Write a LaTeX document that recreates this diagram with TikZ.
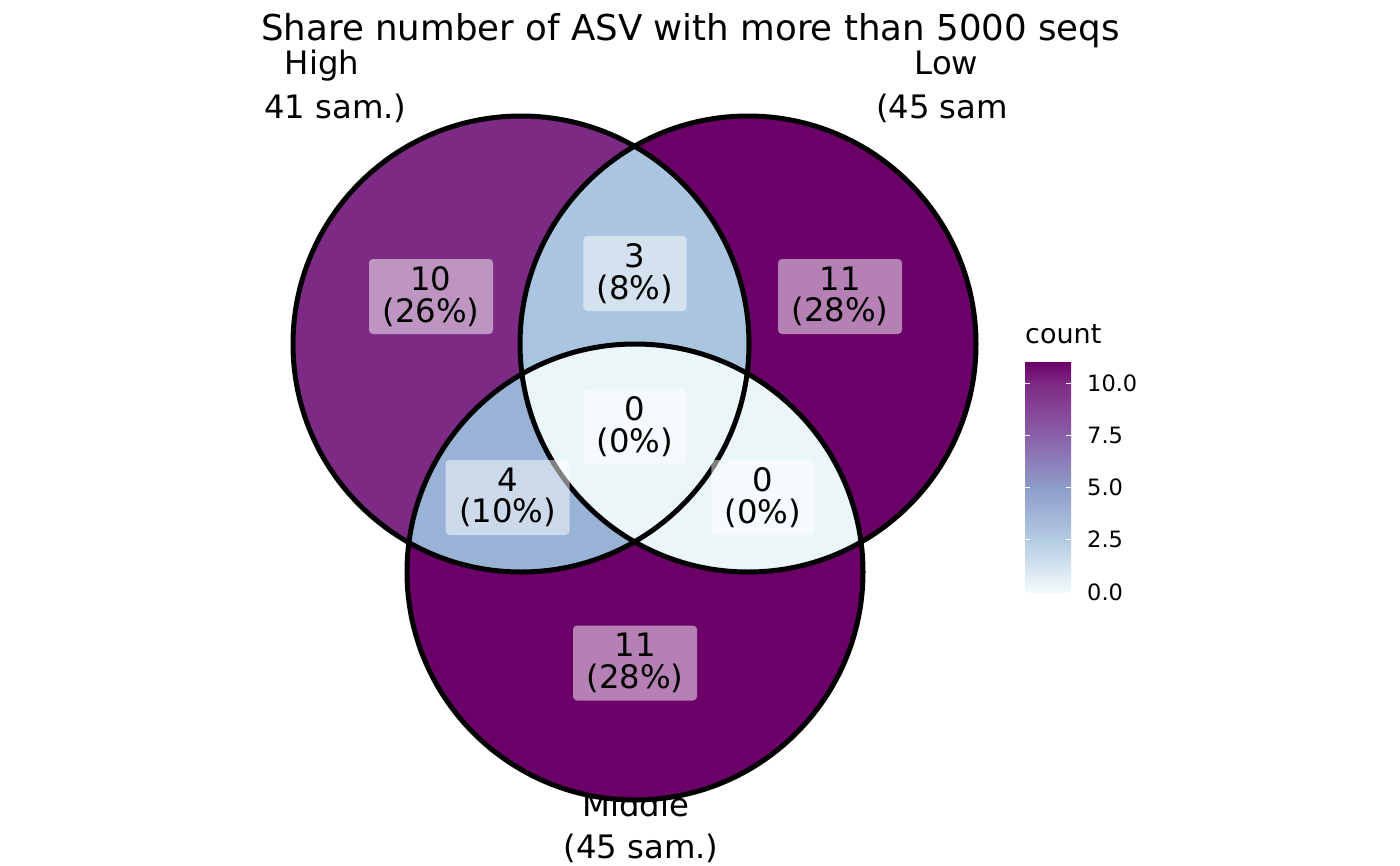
\documentclass[tikz,border=0pt]{standalone}
\usepackage{fontspec}
\setmainfont{DejaVu Sans}
\definecolor{cz}{HTML}{EBF6F9}
\definecolor{cthree}{HTML}{A9C5DF}
\definecolor{cfour}{HTML}{99B3D6}
\definecolor{cten}{HTML}{7D2A84}
\definecolor{celeven}{HTML}{6B0068}
\definecolor{sz}{HTML}{F3FAFC}
\definecolor{stwo}{HTML}{B3CBE2}
\definecolor{sfive}{HTML}{8D9DCA}
\definecolor{sseven}{HTML}{8B60A8}
\definecolor{sten}{HTML}{7D2A85}
\definecolor{selev}{HTML}{6B0068}
\begin{document}
\begin{tikzpicture}[x=1pt,y=-1pt,
  setlab/.style={font=\fontsize{32.3}{32.3}\selectfont, anchor=base},
  numbox/.style={fill=white, fill opacity=0.5, text opacity=1, rounded corners=4pt,
    inner xsep=13.5pt, inner ysep=0pt, minimum height=75pt, align=center,
    font=\fontsize{32.3}{31.5}\selectfont},
  ring/.style={draw=black, line width=5pt},
  ticklab/.style={font=\fontsize{22.5}{22.5}\selectfont, anchor=base west},
  tickmark/.style={draw=white, line width=1pt}]
\useasboundingbox[fill=white] (0,0) rectangle (1400,865);
\coordinate (H) at (521,344);
\coordinate (L) at (748,344);
\coordinate (M) at (635,572);
% title
\node[font=\fontsize{35.6}{35.6}\selectfont, anchor=base] (title) at (690.5,40) {Share number of ASV with more than 5000 seqs};
% set labels (clipped to the panel)
\begin{scope}
\clip (262,0) rectangle (1006,865);
\node[setlab] (hname) at (322,74) {High};
\node[setlab] (hcount) at (329,118) {(41 sam.)};
\node[setlab] (lname) at (946.5,74) {Low};
\node[setlab] (lcount) at (953.5,118) {(45 sam.)};
\node[setlab] (mname) at (635.5,816) {Middle};
\node[setlab] (mcount) at (641,858) {(45 sam.)};
\end{scope}
% regions
\fill[cten] (H) circle (228);
\fill[celeven] (L) circle (228);
\fill[celeven] (M) circle (228);
\begin{scope}
\clip (H) circle (228);
\fill[cthree] (L) circle (228);
\fill[cfour] (M) circle (228);
\end{scope}
\begin{scope}
\clip (L) circle (228);
\fill[cz] (M) circle (228);
\end{scope}
% outlines
\draw[ring] (H) circle (228);
\draw[ring] (L) circle (228);
\draw[ring] (M) circle (228);
% counts
\node[numbox] (nh) at (431,296.5) {10\\(26\%)};
\node[numbox] (nhl) at (635,273.5) {3\\(8\%)};
\node[numbox] (nl) at (840,296.5) {11\\(28\%)};
\node[numbox] (nhlm) at (635,426.5) {0\\(0\%)};
\node[numbox] (nhm) at (507.5,497.5) {4\\(10\%)};
\node[numbox] (nlm) at (763,497.5) {0\\(0\%)};
\node[numbox] (nm) at (635,663) {11\\(28\%)};
% legend
\node[font=\fontsize{27}{27}\selectfont, anchor=base west, inner sep=0pt] (legtitle) at (1025,343) {count};
\shade[bottom color=sz, top color=stwo] (1025,592) rectangle (1071,539.25);
\shade[bottom color=stwo, top color=sfive] (1025,540.25) rectangle (1071,487);
\shade[bottom color=sfive, top color=sseven] (1025,488) rectangle (1071,435);
\shade[bottom color=sseven, top color=sten] (1025,436) rectangle (1071,383);
\shade[bottom color=sten, top color=selev] (1025,384) rectangle (1071,362);
\foreach \yy/\lab in {383/10.0, 435.25/7.5, 487.5/5.0, 539.75/2.5, 592/0.0} {
  \draw[tickmark] (1025,\yy) -- (1030,\yy);
  \draw[tickmark] (1066,\yy) -- (1071,\yy);
  \node[ticklab, inner sep=0pt] at (1087,\yy+8) {\lab};
}
\end{tikzpicture}
\end{document}
